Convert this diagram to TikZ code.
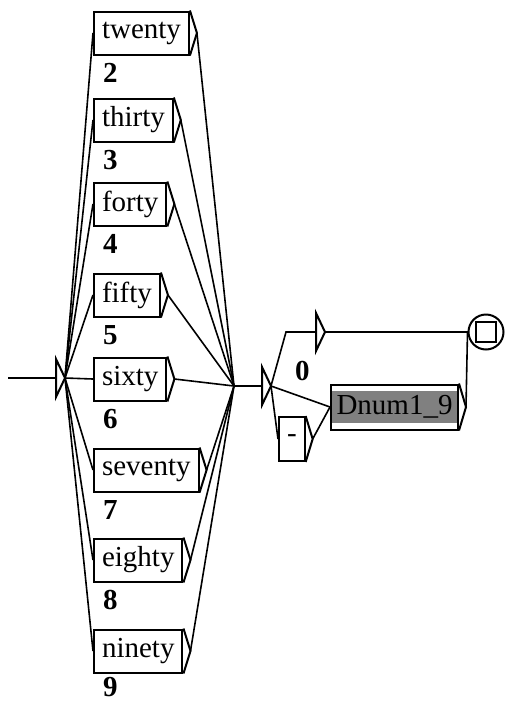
\documentclass[tikz,border=0pt]{standalone}
\usepackage{fontspec}
\setmainfont{Liberation Serif}
\usetikzlibrary{calc}
\definecolor{dnumgrey}{RGB}{128,128,128}
\tikzset{
  boxline/.style={line width=2pt},
  link/.style={line width=1.6pt},
  word/.style={draw,boxline,rectangle,anchor=west,minimum height=43pt,
    inner xsep=8pt,inner ysep=0pt,font=\fontsize{29}{30}\selectfont},
  outnum/.style={anchor=base west,inner sep=0pt,
    font=\fontsize{29}{30}\selectfont\bfseries}
}
\newcommand{\outtip}[1]{%
  \coordinate (#1-out) at ([xshift=7pt]#1.east);
  \draw[boxline] (#1.north east) -- (#1-out) -- (#1.south east);}
\newcommand{\emptybox}[3]{%
  \coordinate (#1-in) at (#2,#3);
  \coordinate (#1) at (#2+9,#3);
  \draw[boxline] (#2,#3-19) -- (#1) -- (#2,#3+19) -- cycle;}

\begin{document}
\begin{tikzpicture}[x=1pt,y=-1pt]
  \useasboundingbox (0,0) rectangle (504,702);

  \coordinate (entry) at (8,378);
  \emptybox{init}{56}{378}
  \draw[link] (entry) -- (init-in);

  \node[word] (twenty)  at (93,33)  {twenty};
  \node[word] (thirty)  at (93,120) {thirty};
  \node[word] (forty)   at (93,204) {forty};
  \node[word] (fifty)   at (93,295) {fifty};
  \node[word] (sixty)   at (93,379) {sixty};
  \node[word] (seventy) at (93,470) {seventy};
  \node[word] (eighty)  at (93,560) {eighty};
  \node[word] (ninety)  at (93,651) {ninety};

  \node[outnum] (n2) at ([xshift=10pt,yshift=-27pt]twenty.south west)  {2};
  \node[outnum] (n3) at ([xshift=10pt,yshift=-27pt]thirty.south west)  {3};
  \node[outnum] (n4) at ([xshift=10pt,yshift=-27pt]forty.south west)   {4};
  \node[outnum] (n5) at ([xshift=10pt,yshift=-27pt]fifty.south west)   {5};
  \node[outnum] (n6) at ([xshift=10pt,yshift=-27pt]sixty.south west)   {6};
  \node[outnum] (n7) at ([xshift=10pt,yshift=-27pt]seventy.south west) {7};
  \node[outnum] (n8) at ([xshift=10pt,yshift=-27pt]eighty.south west)  {8};
  \node[outnum] (n9) at ([xshift=10pt,yshift=-23pt]ninety.south west)  {9};

  \outtip{twenty}
  \outtip{thirty}
  \outtip{forty}
  \outtip{fifty}
  \outtip{sixty}
  \outtip{seventy}
  \outtip{eighty}
  \outtip{ninety}

  \coordinate (hub) at (234,386);
  \draw[link] (init) -- (twenty.west)  (twenty-out) -- (hub);
  \draw[link] (init) -- (thirty.west)  (thirty-out) -- (hub);
  \draw[link] (init) -- (forty.west)   (forty-out) -- (hub);
  \draw[link] (init) -- (fifty.west)   (fifty-out) -- (hub);
  \draw[link] (init) -- (sixty.west)   (sixty-out) -- (hub);
  \draw[link] (init) -- (seventy.west) (seventy-out) -- (hub);
  \draw[link] (init) -- (eighty.west)  (eighty-out) -- (hub);
  \draw[link] (init) -- (ninety.west)  (ninety-out) -- (hub);

  \emptybox{join}{262}{386}
  \draw[link] (hub) -- (join-in);

  \emptybox{zero}{316}{332}
  \coordinate (bend) at (286,332);
  \draw[link] (join) -- (bend) -- (zero-in);
  \node[outnum] (n0) at (295,380) {0};

  \node[word,minimum height=44pt] (dash) at (278,439) {-};
  \node[word,minimum height=45pt,inner xsep=1pt] (dnum) at (330,407)
    {\setlength{\fboxsep}{4.5pt}\colorbox{dnumgrey}{Dnum1\_9}\hspace{3pt}};
  \outtip{dash}
  \outtip{dnum}
  \draw[link] (join) -- (dash.west);
  \draw[link] (join) -- (dnum.west);
  \draw[link] (dash-out) -- (dnum.west);

  \node[draw,boxline,circle,minimum size=35pt,inner sep=0pt] (final) at (486,332) {};
  \draw[boxline] ([shift={(-10pt,-10pt)}]final.center) rectangle ([shift={(10pt,10pt)}]final.center);
  \draw[link] (zero) -- (final.west);
  \draw[link] (dnum-out) -- (final.west);
\end{tikzpicture}
\end{document}
